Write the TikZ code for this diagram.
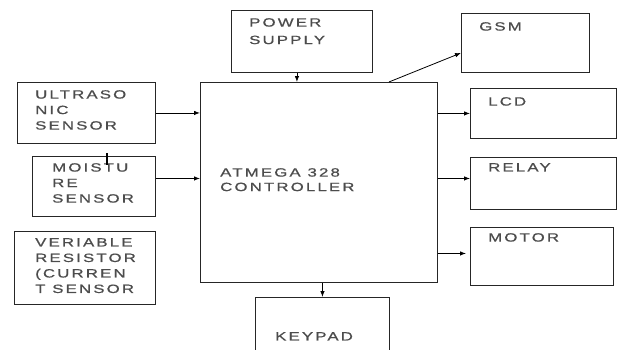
\documentclass[tikz,border=0pt]{standalone}
\usepackage{fontspec}
\setmainfont{Liberation Sans}[FakeStretch=1.4, LetterSpace=18, FakeBold=0.8]
\usetikzlibrary{arrows.meta, positioning}

\begin{document}
\begin{tikzpicture}[
    x=1pt, y=-1pt,
    every node/.style={font=\fontsize{12}{15.5}\selectfont, text=black!70},
    blk/.style={draw=black!85, line width=0.9pt, anchor=north west, inner sep=0pt},
    lbl/.style={inner sep=0pt, align=left},
    arr/.style={-{Latex[length=6pt, width=4.5pt]}, line width=0.8pt}
]
\useasboundingbox (0,0) rectangle (620,349);

% blocks
\node[blk, minimum width=141pt, minimum height=62pt]  (power)  at (231,10)  {};
\node[blk, minimum width=237pt, minimum height=200pt] (ctrl)   at (200,82)  {};
\node[blk, minimum width=138pt, minimum height=61pt]  (ultra)  at (17,82)   {};
\node[blk, minimum width=123pt, minimum height=60pt]  (moist)  at (32,156)  {};
\node[blk, minimum width=141pt, minimum height=73pt]  (vres)   at (14,231)  {};
\node[blk, minimum width=134pt, minimum height=70pt]  (keypad) at (255,297) {};
\node[blk, minimum width=128pt, minimum height=59pt]  (gsm)    at (461,13)  {};
\node[blk, minimum width=146pt, minimum height=50pt]  (lcd)    at (470,88)  {};
\node[blk, minimum width=146pt, minimum height=52pt]  (relay)  at (470,157) {};
\node[blk, minimum width=143pt, minimum height=58pt]  (motor)  at (470,227) {};

% texts
\node[lbl, below right=8pt and 18pt of power.north west]  (powert)  {POWER\\[2pt]SUPPLY};
\node[lbl, below right=86pt and 20pt of ctrl.north west]  (ctrlt)   {ATMEGA 328\\[-1pt]CONTROLLER};
\node[lbl, below right=8pt and 18pt of ultra.north west]  (ultrat)  {ULTRASO\\NIC\\SENSOR};
\node[lbl, below right=7pt and 20pt of moist.north west]  (moistt)  {MOISTU\\RE\\SENSOR};
\node[lbl, below right=7pt and 21pt of vres.north west]   (vrest)   {VERIABLE\\RESISTOR\\(CURREN\\T SENSOR};
\node[lbl, below right=35pt and 20pt of keypad.north west] (keypadt) {KEYPAD};
\node[lbl, below right=9pt and 18pt of gsm.north west]    (gsmt)    {GSM};
\node[lbl, below right=9pt and 18pt of lcd.north west]    (lcdt)    {LCD};
\node[lbl, below right=6pt and 18pt of relay.north west]  (relayt)  {RELAY};
\node[lbl, below right=6pt and 18pt of motor.north west]  (motort)  {MOTOR};

% connections
\draw[arr] ([xshift=-5pt]power.south) -- ([xshift=-5pt]power.south |- ctrl.north);
\draw[arr] (ultra.east) -- (ultra.east -| ctrl.west);
\draw[arr] ([yshift=8pt]moist.east) -- ([yshift=8pt]moist.east -| ctrl.west);
\draw[arr] ([xshift=-49pt]ctrl.north east) -- ([yshift=-10pt]gsm.west);
\draw[arr] (lcd.west -| ctrl.east) -- (lcd.west);
\draw[arr] ([yshift=5pt]relay.west -| ctrl.east) -- ([yshift=5pt]relay.west);
\draw[arr] ([yshift=3pt]motor.west -| ctrl.east) -- ([yshift=3pt,xshift=-4pt]motor.west);
\draw[arr] (keypad.north |- ctrl.south) -- (keypad.north);
\coordinate (tick) at (107,153);
\draw[line width=1.2pt] (tick) -- ++(0,12);
\end{tikzpicture}
\end{document}
